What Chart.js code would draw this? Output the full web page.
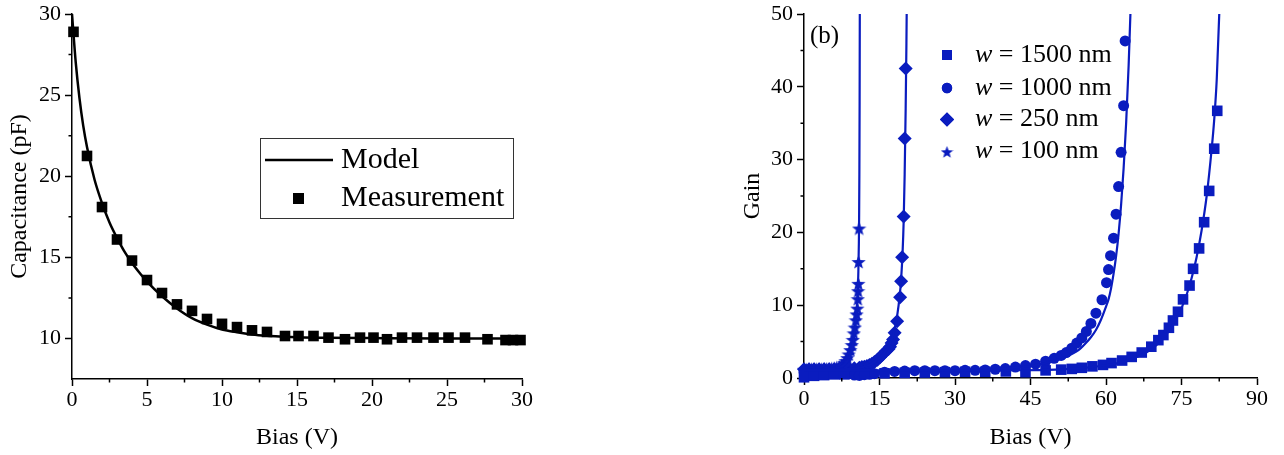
<!DOCTYPE html>
<html>
<head>
<meta charset="utf-8">
<script src="https://cdn.jsdelivr.net/npm/chart.js@4/dist/chart.umd.min.js"></script>
<style>
  body { margin: 0; background: #fff; }
  #wrap { position: relative; width: 1284px; height: 455px; overflow: hidden; }
  canvas { position: absolute; top: 0; }
  #capChart { left: 0; }
  #gainChart { left: 720px; }
</style>
</head>
<body>
<div id="wrap">
  <canvas id="capChart" width="560" height="455"></canvas>
  <canvas id="gainChart" width="564" height="455"></canvas>
</div>
<script>
// (a) capacitance vs bias
const biasMeas = [0.1, 1, 2, 3, 4, 5, 6, 7, 8, 9, 10, 11, 12, 13, 14.2, 15.1, 16.1, 17.1, 18.2, 19.2, 20.1, 21, 22, 23, 24.1, 25.1, 26.2, 27.7, 28.9, 29.4, 29.9];
const capMeas = [28.9, 21.25, 18.1, 16.1, 14.8, 13.6, 12.8, 12.1, 11.7, 11.2, 10.9, 10.7, 10.5, 10.4, 10.15, 10.15, 10.15, 10.05, 9.95, 10.05, 10.05, 9.95, 10.05, 10.05, 10.05, 10.05, 10.05, 9.95, 9.9, 9.9, 9.9];
const biasModel = [0, 0.25, 0.5, 0.75, 1, 1.5, 2, 2.5, 3, 3.5, 4, 4.5, 5, 6, 7, 8, 9, 10, 11, 12, 13, 14, 15, 17, 20, 25, 30];
const capModel = [30, 27, 24.8, 23.1, 21.8, 19.8, 18.35, 17.15, 16.2, 15.35, 14.65, 14.05, 13.5, 12.6, 11.85, 11.25, 10.85, 10.55, 10.38, 10.25, 10.17, 10.12, 10.08, 10.04, 10.02, 10.0, 10.0];

// (b) gain vs bias, one set per width
const widthLabels = ['1500', '1000', '250', '100'];
const bias1500 = [0, 2, 4, 6, 8, 12, 16, 20, 24, 28, 32, 36, 40.1, 44, 48, 51.1, 53.2, 55.2, 57.3, 59.4, 61.1, 63.2, 65.1, 67.1, 69, 70.4, 71.4, 72.5, 73.3, 74.3, 75.3, 76.6, 77.3, 78.5, 79.5, 80.5, 81.5, 82.1];
const gain1500 = [0.1, 0.3, 0.4, 0.5, 0.5, 0.6, 0.65, 0.7, 0.75, 0.8, 0.85, 0.85, 0.9, 0.8, 1.05, 1.15, 1.25, 1.4, 1.6, 1.8, 2.05, 2.4, 2.9, 3.5, 4.3, 5.2, 5.9, 6.9, 7.9, 9.1, 10.8, 12.7, 15.0, 17.8, 21.4, 25.7, 31.5, 36.7];
const bias1000 = [0, 1.5, 3, 4.5, 6, 7.5, 9, 10, 11, 12, 13, 14, 16, 18, 20, 22, 24, 26, 28, 30, 32, 34, 36, 38, 40, 42, 44, 46, 48, 49.7, 51.1, 52.1, 53.2, 54.2, 55.2, 56.1, 57, 58, 59.2, 60.1, 60.5, 60.9, 61.5, 62, 62.5, 63, 63.5, 63.8];
const gain1000 = [0.9, 0.9, 0.85, 0.85, 0.8, 0.7, 0.6, 0.4, 0.35, 0.45, 0.5, 0.6, 0.8, 0.9, 0.95, 1.0, 1.0, 1.0, 1.0, 1.0, 1.05, 1.05, 1.1, 1.2, 1.3, 1.5, 1.7, 1.9, 2.3, 2.7, 3.1, 3.5, 4.1, 4.8, 5.5, 6.4, 7.5, 8.9, 10.75, 13.1, 14.9, 16.8, 19.2, 22.5, 26.3, 31.0, 37.4, 46.3];
const bias250 = [0, 1, 2, 3, 4, 5, 6, 7, 8, 9, 10, 11, 11.5, 12, 12.5, 13, 13.5, 14, 14.6, 15.1, 15.6, 16.3, 16.8, 17.1, 17.4, 17.7, 18, 18.5, 19.1, 19.3, 19.5, 19.8, 20.0, 20.2];
const gain250 = [1.2, 1.2, 1.2, 1.2, 1.2, 1.2, 1.2, 1.25, 1.25, 1.3, 1.35, 1.4, 1.5, 1.55, 1.65, 1.8, 1.95, 2.2, 2.5, 2.85, 3.2, 3.7, 4.0, 4.3, 4.8, 5.3, 6.2, 7.8, 11.1, 13.3, 16.6, 22.2, 32.9, 42.5];
const bias100 = [0, 0.5, 1, 1.5, 2, 2.5, 3, 3.5, 4, 4.5, 5, 5.5, 6, 6.5, 7, 7.5, 8, 8.3, 8.6, 8.9, 9.2, 9.5, 9.7, 9.9, 10.1, 10.3, 10.45, 10.6, 10.7, 10.75, 10.8, 10.85, 10.95];
const gain100 = [1.2, 1.2, 1.25, 1.25, 1.25, 1.25, 1.25, 1.25, 1.3, 1.3, 1.3, 1.35, 1.4, 1.5, 1.6, 1.8, 2.1, 2.4, 2.8, 3.3, 3.9, 4.6, 5.3, 6.2, 7.0, 8.0, 8.8, 9.6, 10.9, 12.0, 13.0, 16.0, 20.6];

// model curves
const fitBias1500 = [0, 20, 40, 50, 55, 60, 63, 66, 68, 70, 72, 74, 75, 76, 77, 78, 79, 80, 81, 81.5, 82, 82.5, 82.8];
const fitGain1500 = [1.0, 1.0, 1.05, 1.15, 1.35, 1.75, 2.15, 2.85, 3.5, 4.5, 6.0, 8.2, 9.6, 11.4, 13.7, 16.6, 20.3, 25, 31.5, 35.5, 41, 50, 57];
const fitBias1000 = [0, 10, 20, 30, 36, 40, 44, 47, 50, 52, 54, 55, 56, 57, 58, 59, 60, 60.5, 61, 61.5, 62, 62.5, 63, 63.5, 64, 64.5, 65, 65.3];
const fitGain1000 = [1.0, 1.0, 1.02, 1.08, 1.15, 1.3, 1.55, 1.9, 2.4, 2.9, 3.6, 4.1, 4.8, 5.6, 6.6, 8.0, 9.8, 10.8, 12.3, 14.3, 16.7, 19.8, 23.8, 28.8, 35, 43, 53, 60];
const fitBias250 = [0, 5, 10, 12, 13, 14, 15, 16, 17, 17.5, 18, 18.5, 19, 19.3, 19.6, 19.8, 20.0, 20.2, 20.35, 20.5];
const fitGain250 = [1.1, 1.15, 1.3, 1.55, 1.8, 2.2, 2.75, 3.5, 4.6, 5.5, 6.7, 8.5, 11.2, 13.6, 17.5, 21.5, 28, 37, 46, 58];
const fitBias100 = [0, 2, 4, 6, 7, 8, 8.5, 9, 9.5, 10, 10.3, 10.5, 10.7, 10.8, 10.9, 10.95, 11.0, 11.05, 11.1];
const fitGain100 = [1.15, 1.18, 1.22, 1.3, 1.45, 1.8, 2.2, 2.9, 4.0, 5.9, 7.6, 9.4, 12.3, 14.6, 18.5, 22, 28, 38, 55];

const SERIF = "'Liberation Serif', 'Times New Roman', serif";
const BLUE = '#0a1cbf';
Chart.defaults.color = '#000';
Chart.defaults.font.family = SERIF;

const xy = (xs, ys) => xs.map((x, i) => ({ x: x, y: ys[i] }));

// filled five-point star for the 100 nm points
function makeStar(size, color) {
  const c = document.createElement('canvas');
  c.width = size; c.height = size;
  const g = c.getContext('2d');
  const r = size / 2, ri = r * 0.42;
  g.beginPath();
  for (let i = 0; i < 10; i++) {
    const a = -Math.PI / 2 + i * Math.PI / 5;
    const rr = i % 2 ? ri : r;
    g.lineTo(r + rr * Math.cos(a), r + 1 + rr * Math.sin(a));
  }
  g.closePath();
  g.fillStyle = color;
  g.fill();
  return c;
}
const star = makeStar(15, BLUE);
const legendStar = makeStar(13, BLUE);

// short unlabeled ticks between the major ones
const minorTicks = {
  id: 'minorTicks',
  afterDraw(chart, args, opts) {
    const { ctx, chartArea: a, scales } = chart;
    ctx.save();
    ctx.strokeStyle = '#000';
    ctx.lineWidth = 1.5;
    ctx.beginPath();
    const xs = scales.x, ys = scales.y;
    for (let v = xs.min + opts.xStep; v < xs.max; v += opts.xStep * 2) {
      const p = xs.getPixelForValue(v);
      ctx.moveTo(p, a.bottom); ctx.lineTo(p, a.bottom + opts.len);
    }
    for (let v = opts.yFirst; v < ys.max; v += opts.yStep * 2) {
      const p = ys.getPixelForValue(v);
      ctx.moveTo(a.left, p); ctx.lineTo(a.left - opts.len, p);
    }
    ctx.stroke();
    ctx.restore();
  }
};

function axis(opts) {
  return Object.assign({
    type: 'linear',
    grid: { drawOnChartArea: false, tickLength: 7, tickColor: '#000', tickWidth: 1.5 },
    border: { color: '#000', width: 1.5 }
  }, opts);
}

// fixed axis box so the plot area lands where it should
const fixY = w => s => { s.width = w; s.paddingTop = 0; s.paddingBottom = 0; };
const fixX = h => s => { s.height = h; s.paddingLeft = 0; s.paddingRight = 0; };

// ---------- capacitance chart ----------
const capLegend = {
  id: 'capLegend',
  afterDraw(chart) {
    const ctx = chart.ctx;
    ctx.save();
    ctx.strokeStyle = '#333';
    ctx.lineWidth = 1;
    ctx.strokeRect(260.5, 138.5, 253, 80);
    ctx.strokeStyle = '#000';
    ctx.lineWidth = 2.5;
    ctx.beginPath();
    ctx.moveTo(265, 160); ctx.lineTo(333, 160);
    ctx.stroke();
    ctx.fillStyle = '#000';
    ctx.fillRect(293, 193, 11, 11);
    ctx.font = '30px ' + SERIF;
    ctx.textBaseline = 'middle';
    ctx.fillText('Model', 341, 160);
    ctx.fillText('Measurement', 341, 198);
    ctx.restore();
  }
};

new Chart(document.getElementById('capChart'), {
  type: 'scatter',
  data: {
    datasets: [
      {
        label: 'Measurement',
        data: xy(biasMeas, capMeas),
        pointStyle: 'rect',
        pointRadius: 7.5,
        pointBorderWidth: 0,
        backgroundColor: '#000',
        clip: false
      },
      {
        label: 'Model',
        data: xy(biasModel, capModel),
        showLine: true,
        pointRadius: 0,
        borderColor: '#000',
        borderWidth: 2.5,
        cubicInterpolationMode: 'monotone'
      }
    ]
  },
  options: {
    responsive: false,
    animation: false,
    layout: { padding: { top: 14, right: 38, left: 0, bottom: 0 } },
    plugins: {
      legend: { display: false },
      tooltip: { enabled: false },
      minorTicks: { xStep: 2.5, yStep: 2.5, yFirst: 12.5, len: 3.5 }
    },
    scales: {
      x: axis({
        min: 0, max: 30,
        ticks: { stepSize: 5, font: { size: 22 }, padding: 1 },
        title: { display: true, text: 'Bias (V)', font: { size: 24 }, padding: { top: 0, bottom: 3 } },
        afterFit: fixX(76)
      }),
      y: axis({
        min: 7.5, max: 30,
        ticks: { stepSize: 5, font: { size: 22 }, padding: 4 },
        afterBuildTicks: s => { s.ticks = s.ticks.filter(t => t.value % 5 === 0); },
        title: { display: true, text: 'Capacitance (pF)', font: { size: 24 }, padding: { top: 5, bottom: 0 } },
        afterFit: fixY(72)
      })
    }
  },
  plugins: [minorTicks, capLegend]
});

// ---------- gain chart ----------
const styles = ['rect', 'circle', 'rectRot', star];
const radii = [7.5, 5.5, 7, 7.5];
const measured = [xy(bias1500, gain1500), xy(bias1000, gain1000), xy(bias250, gain250), xy(bias100, gain100)];
const fitted = [xy(fitBias1500, fitGain1500), xy(fitBias1000, fitGain1000), xy(fitBias250, fitGain250), xy(fitBias100, fitGain100)];

const gainDatasets = [];
fitted.forEach((d, i) => gainDatasets.push({
  label: 'fit ' + widthLabels[i],
  data: d,
  showLine: true,
  pointRadius: 0,
  borderColor: BLUE,
  borderWidth: 2.2,
  cubicInterpolationMode: 'monotone'
}));
measured.forEach((d, i) => gainDatasets.push({
  label: widthLabels[i] + ' nm',
  data: d,
  pointStyle: styles[i],
  pointRadius: radii[i],
  pointBorderWidth: 0,
  backgroundColor: BLUE,
  clip: false
}));

const gainLegend = {
  id: 'gainLegend',
  afterDraw(chart) {
    const ctx = chart.ctx;
    ctx.save();
    ctx.fillStyle = '#000';
    ctx.textBaseline = 'middle';
    ctx.font = '25px ' + SERIF;
    ctx.fillText('(b)', 90, 36);
    const rows = [55, 88, 119.5, 151.5];
    const marks = ['rect', 'circle', 'rectRot', legendStar];
    const sizes = [7, 5.2, 7, 0];
    widthLabels.forEach((w, i) => {
      ctx.fillStyle = BLUE;
      Chart.helpers.drawPoint(ctx, { pointStyle: marks[i], radius: sizes[i], rotation: 0, borderWidth: 0 }, 227, rows[i]);
      ctx.fill();
      ctx.fillStyle = '#000';
      ctx.font = 'italic 26px ' + SERIF;
      ctx.fillText('w', 255, rows[i]);
      const wW = ctx.measureText('w').width;
      ctx.font = '26px ' + SERIF;
      ctx.fillText(' = ' + w + ' nm', 255 + wW, rows[i]);
    });
    ctx.restore();
  }
};

new Chart(document.getElementById('gainChart'), {
  type: 'scatter',
  data: { datasets: gainDatasets },
  options: {
    responsive: false,
    animation: false,
    layout: { padding: { top: 14, right: 27, left: 0, bottom: 0 } },
    plugins: {
      legend: { display: false },
      tooltip: { enabled: false },
      minorTicks: { xStep: 7.5, yStep: 5, yFirst: 5, len: 3.5 }
    },
    scales: {
      x: axis({
        min: 0, max: 90,
        ticks: { stepSize: 15, font: { size: 22 }, padding: 1 },
        title: { display: true, text: 'Bias (V)', font: { size: 24 }, padding: { top: 0, bottom: 3 } },
        afterFit: fixX(77)
      }),
      y: axis({
        min: 0, max: 50,
        ticks: { stepSize: 10, font: { size: 22 }, padding: 4 },
        title: { display: true, text: 'Gain', font: { size: 24 }, padding: { top: 18, bottom: 0 } },
        afterFit: fixY(84)
      })
    }
  },
  plugins: [minorTicks, gainLegend]
});
</script>
</body>
</html>
